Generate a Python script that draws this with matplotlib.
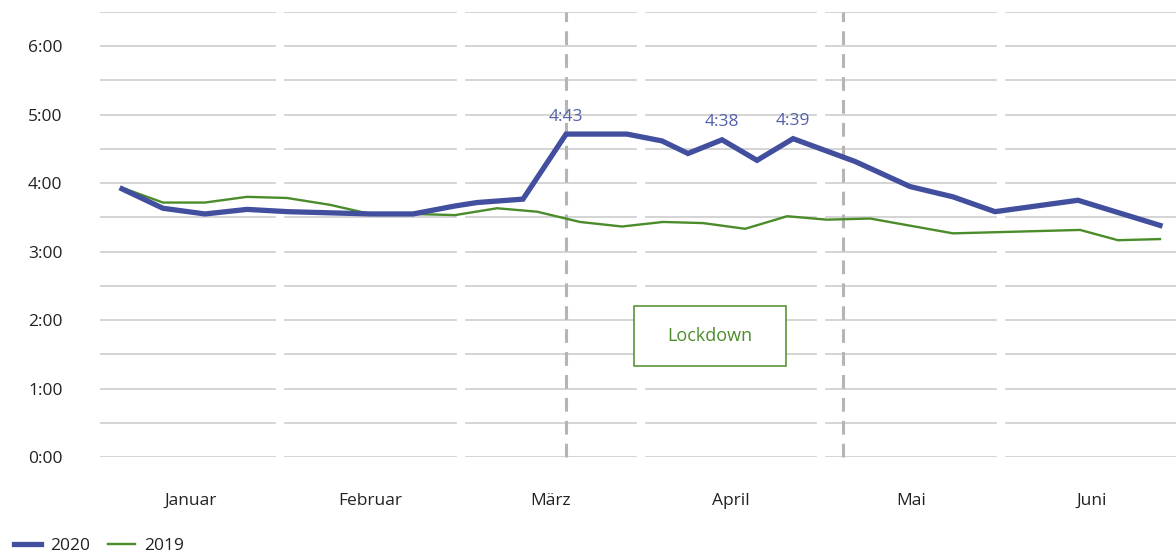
import matplotlib
matplotlib.use("Agg")
import matplotlib.pyplot as plt
from matplotlib.patches import Rectangle
from matplotlib.ticker import MultipleLocator, FuncFormatter

plt.rcParams['font.family'] = ['Open Sans', 'DejaVu Sans']

# months on the x axis, one unit per month
months = ["Januar", "Februar", "März", "April", "Mai", "Juni"]

# daily viewing time in minutes, x given as position within the month axis
x_2020 = [0.122, 0.349, 0.582, 0.815, 1.043, 1.276, 1.503, 1.736, 1.969, 2.091,
          2.346, 2.585, 2.923, 3.117, 3.261, 3.450, 3.644, 3.844, 4.188, 4.493,
          4.731, 4.964, 5.424, 5.879]
min_2020 = [235, 218, 213, 217, 215, 214, 213, 213, 220, 223,
            226, 283, 283, 277, 266, 278, 260, 279, 259, 237,
            228, 215, 225, 203]

x_2019 = [0.122, 0.349, 0.582, 0.815, 1.037, 1.276, 1.498, 1.736, 1.969, 2.202,
          2.424, 2.662, 2.895, 3.123, 3.345, 3.578, 3.811, 4.033, 4.271, 4.731,
          5.436, 5.646, 5.879]
min_2019 = [236, 223, 223, 228, 227, 221, 213, 213, 212, 218,
            215, 206, 202, 206, 205, 200, 211, 208, 209, 196,
            199, 190, 191]

labelled = [11, 15, 17]          # indices of 2020 points with value labels
lockdown_marks = [2.585, 4.12]   # dashed reference lines
lockdown_box = (2.962, 1.33, 0.843, 0.87)

blue = "#414f9e"
green = "#4a8c2a"
grid_c = "#c9c9c9"
txt_c = "#222222"

fig = plt.figure(figsize=(11.76, 5.56), dpi=100)
ax = fig.add_axes([100 / 1176, 99 / 556, 1076 / 1176, 445 / 556])

h_2020 = [m / 60 for m in min_2020]
h_2019 = [m / 60 for m in min_2019]

ax.set_xlim(0, 1076 / 180.3)
ax.set_ylim(0, 6.5)

ax.yaxis.set_major_locator(MultipleLocator(1))
ax.yaxis.set_minor_locator(MultipleLocator(0.5))
ax.yaxis.set_major_formatter(FuncFormatter(lambda v, p: "%d:00" % round(v)))
ax.grid(axis="y", which="both", color=grid_c, lw=1.1, zorder=0.5)
ax.set_axisbelow(True)

# white gaps in the grid at month boundaries
for b in range(1, len(months)):
    ax.axvline(b, color="white", lw=6, zorder=0.8)

ax.set_xticks([i + 0.5 for i in range(len(months))])
ax.set_xticklabels(months)
ax.tick_params(axis="both", which="both", length=0, labelsize=12.5, colors=txt_c)
ax.tick_params(axis="x", pad=26)
ax.tick_params(axis="y", pad=27)
for s in ax.spines.values():
    s.set_visible(False)

for xm in lockdown_marks:
    ax.plot([xm, xm], [0, 6.5], color="#b5b5b5", lw=2.2, ls=(0, (4.5, 3)),
            zorder=1, clip_on=False)

ax.plot(x_2019, h_2019, color=green, lw=1.7, zorder=3, label="2019")
ax.plot(x_2020, h_2020, color=blue, lw=3.8, zorder=4, label="2020",
        solid_joinstyle="miter")

for i in labelled:
    m = min_2020[i]
    ax.annotate("%d:%02d" % (m // 60, m % 60), (x_2020[i], h_2020[i]),
                xytext=(0, 12.5), textcoords="offset points",
                ha="center", va="center", fontsize=12.5, color="#5360aa")

bx, by, bw, bh = lockdown_box
ax.add_patch(Rectangle((bx, by), bw, bh, facecolor="white", edgecolor=green,
                       lw=1.1, zorder=5))
ax.text(bx + bw / 2, by + bh / 2, "Lockdown", ha="center", va="center",
        fontsize=13, color=green, zorder=6)

handles, labels = ax.get_legend_handles_labels()
fig.legend(handles[::-1], labels[::-1], loc="lower left",
           bbox_to_anchor=(0.0, -0.022), ncol=2, frameon=False, fontsize=12.5,
           handlelength=1.55, handletextpad=0.55, columnspacing=1.0,
           borderaxespad=0.4, labelcolor=txt_c)

fig.savefig("out.png", dpi=100)
